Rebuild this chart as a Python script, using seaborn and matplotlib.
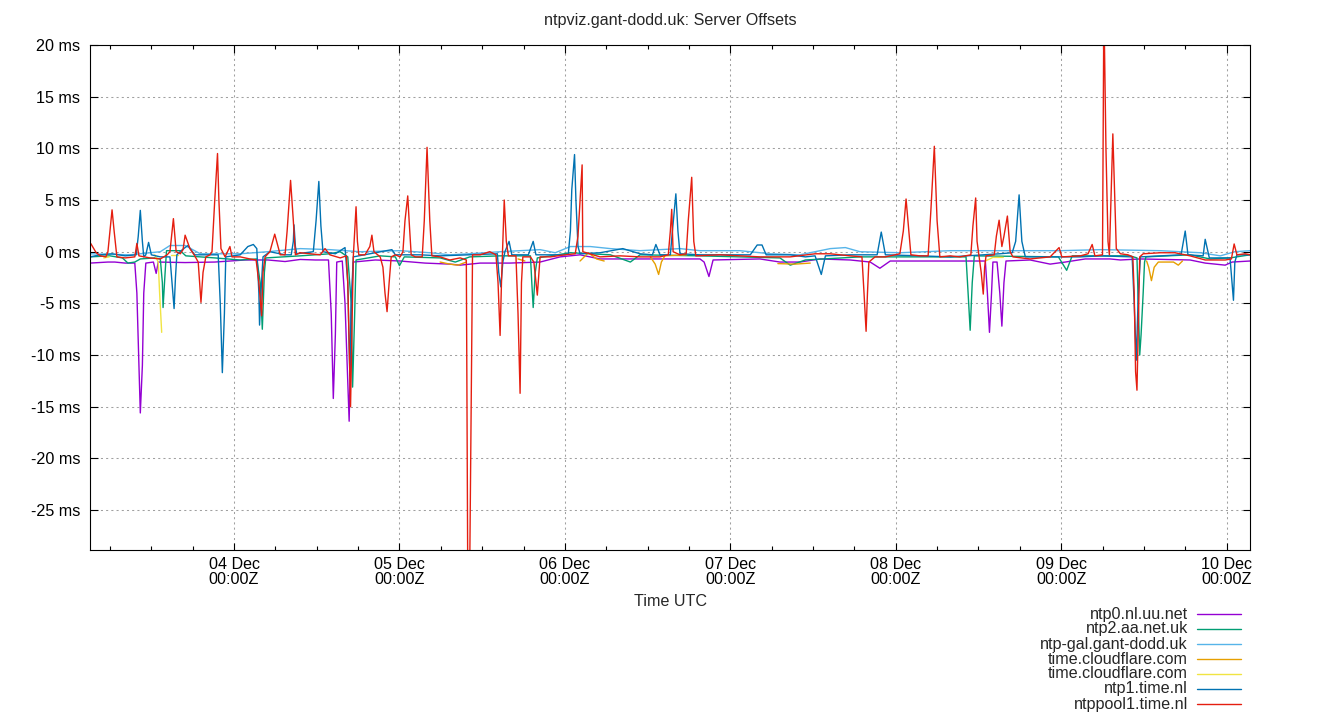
import numpy as np
import pandas as pd
import matplotlib
matplotlib.use("Agg")
import matplotlib.pyplot as plt
import seaborn as sns
from matplotlib.lines import Line2D
from matplotlib.ticker import MultipleLocator, FixedLocator

# ---------------- data (time = hours since 03 Dec 00:00Z, offset in ms) ----------------
SERVERS = ["ntp0.nl.uu.net", "ntp2.aa.net.uk", "ntp-gal.gant-dodd.uk",
           "time.cloudflare.com", "time.cloudflare.com", "ntp1.time.nl", "ntppool1.time.nl"]
COLORS = ["#9400d3", "#009e73", "#56b4e9", "#e69f00", "#f0e442", "#0072b2", "#e51e10"]

ntp0_t = [3.1, 5.7, 6.7, 8.2, 9.6, 9.9, 10.2, 10.4, 10.7, 10.9, 11.2, 12.3, 12.7, 13.0, 16.9,
          21.2, 23.4, 25.6, 28.9, 31.4, 33.6, 35.8, 37.7, 38.1, 38.4, 38.7, 38.9, 39.7, 40.1,
          40.7, 41.0, 41.3, 44.5, 48.1, 51.7, 55.3, 56.8, 59.7, 64.0, 68.4, 71.3, 74.2, 77.1,
          84.4, 91.6, 92.2, 92.9, 93.5, 100.3, 103.2, 106.1, 109.0, 113.4, 116.3, 117.7, 119.2,
          127.9, 133.0, 133.3, 133.6, 133.9, 134.1, 134.7, 135.1, 135.4, 135.7, 136.0, 139.5,
          142.4, 144.6, 147.5, 151.1, 152.6, 155.5, 162.7, 164.9, 167.8, 168.8, 171.4]
ntp0_ms = [-1.1, -1.0, -1.0, -1.1, -1.1, -4.0, -11.0, -15.6, -11.0, -4.0, -1.1, -1.0, -2.1, -1.0, -1.05,
           -1.0, -0.9, -0.8, -0.8, -0.95, -0.75, -0.8, -0.8, -6.0, -14.2, -8.0, -1.0, -0.9, -5.0,
           -16.4, -6.0, -1.0, -0.8, -0.9, -1.1, -1.2, -1.3, -1.1, -1.1, -1.0, -0.5, -0.3, -0.7,
           -0.7, -0.7, -1.0, -2.4, -0.8, -0.7, -1.0, -1.0, -0.7, -0.8, -1.0, -1.6, -0.9,
           -0.9, -0.9, -4.0, -7.8, -4.0, -1.0, -1.0, -4.0, -7.2, -3.0, -0.9, -0.8,
           -1.2, -1.0, -0.7, -0.7, -0.8, -0.7, -0.8, -1.1, -1.3, -1.0, -0.9]

ntp2_t = [3.1, 6.0, 7.8, 8.6, 9.6, 10.4, 12.5, 13.3, 13.6, 13.7, 14.0, 14.2, 16.2, 17.0, 21.2,
          24.9, 27.3, 27.8, 28.1, 28.4, 28.6, 33.6, 37.9, 39.4, 40.5, 41.0, 41.2, 41.5, 41.7,
          45.2, 47.4, 48.0, 48.7, 53.9, 56.1, 58.2, 62.6, 67.0, 67.2, 67.4, 67.7, 68.0, 72.8,
          78.6, 81.5, 82.9, 91.6, 103.2, 104.7, 106.9, 114.8, 130.2, 130.5, 130.8, 131.1, 131.4,
          143.6, 144.8, 145.6, 154.0, 155.0, 155.4, 155.6, 155.9, 156.1, 156.3, 162.7, 165.6,
          168.5, 171.4]
ntp2_ms = [-0.5, -0.4, -0.6, -1.1, -1.0, -0.7, -0.6, -0.7, -3.0, -5.4, -2.0, 0.1, 0.1, -0.4, -0.6,
           -0.8, -0.7, -3.0, -7.5, -2.0, -0.6, -0.4, -0.2, 0.0, -0.5, -5.0, -13.1, -6.0, -0.8,
           -0.4, -0.5, -1.35, -0.5, -0.6, -1.0, -0.5, -0.4, -0.4, -3.0, -5.4, -2.0, -0.6, -0.1,
           -0.3, -1.0, -0.3, -0.4, -0.6, -1.3, -0.8, -0.5, -0.5, -4.0, -7.6, -3.0, -0.4,
           -0.5, -1.8, -0.4, -0.4, -0.6, -10.0, -8.0, -4.0, -1.0, -0.5, -0.3, -0.7,
           -0.6, -0.3]

gal_t = [3.1, 8.9, 13.3, 14.7, 16.9, 19.1, 24.9, 28.9, 33.6, 37.9, 42.3, 48.1, 52.4, 55.3, 58.2,
         62.6, 68.4, 70.6, 72.8, 75.7, 78.6, 82.9, 88.7, 91.6, 97.4, 101.8, 106.1, 110.5, 112.7,
         114.8, 120.6, 127.9, 135.1, 143.9, 149.7, 158.4, 164.2, 167.1, 169.2, 171.4]
gal_ms = [-0.2, -0.3, 0.0, 0.6, 0.6, -0.2, -0.2, 0.0, 0.3, 0.2, 0.0, 0.1, -0.1, -0.3, -0.2,
          0.0, 0.2, -0.1, 0.5, 0.5, 0.3, 0.1, 0.3, 0.1, 0.1, -0.2, -0.3, 0.3, 0.4,
          0.0, -0.1, 0.1, 0.1, 0.1, 0.2, 0.1, -0.1, -0.4, 0.0, 0.1]

# gaps (no samples) marked with NaN
cf1_t = [53.9, 55.3, 56.5, 57.7, np.nan, 65.2, 66.2, np.nan, 74.2, 75.4, 76.6, 77.7, np.nan,
         84.4, 85.1, 85.6, 86.0, 86.5, 89.7, np.nan, 102.9, 105.4, 107.6, np.nan,
         156.4, 156.7, 157.1, 157.5, 158.1, 160.3, 161.0, 161.6]
cf1_ms = [-1.0, -1.2, -1.3, -1.0, np.nan, -0.7, -0.9, np.nan, -0.9, -0.1, -0.7, -0.9, np.nan,
          -0.5, -1.2, -2.2, -1.0, -0.4, -0.3, np.nan, -1.15, -1.2, -1.1, np.nan,
          -0.9, -1.5, -2.8, -1.5, -1.0, -1.0, -1.3, -0.9]

cf2_t = [5.1, 5.9, np.nan, 12.5, 13.0, 13.2, 13.5, np.nan, 14.9, 15.9, np.nan, 133.0, 134.1, 135.6]
cf2_ms = [-0.6, -0.5, np.nan, -0.3, -1.0, -4.0, -7.8, np.nan, -0.3, -0.3, np.nan, -0.9, -0.55, -0.55]

ntp1_t = [3.1, 4.6, 6.3, 8.2, 9.8, 10.1, 10.4, 10.7, 10.9, 11.2, 11.6, 12.0, 13.3, 14.7, 15.0,
          15.3, 15.5, 15.7, 16.5, 17.3, 18.3, 19.8, 21.7, 22.0, 22.3, 22.6, 22.8, 24.9, 26.0,
          26.8, 27.3, 27.6, 27.7, 27.9, 28.2, 29.2, 31.4, 32.3, 32.6, 32.7, 32.9, 33.1, 35.5,
          35.9, 36.3, 36.6, 36.9, 38.7, 40.1, 40.5, 40.8, 41.0, 41.3, 43.7, 46.9, 47.4, 51.0,
          53.9, 58.2, 62.2, 62.4, 62.7, 63.0, 63.3, 63.9, 64.3, 66.7, 67.4, 67.8, 72.0, 72.5,
          72.8, 73.0, 73.4, 73.6, 73.9, 74.2, 77.1, 80.4, 82.9, 84.7, 85.2, 85.8, 87.3, 87.6,
          88.1, 88.4, 88.7, 91.6, 96.0, 98.9, 99.9, 100.6, 101.2, 104.7, 106.9, 108.3, 109.2,
          109.8, 113.4, 117.3, 117.9, 118.5, 123.5, 127.9, 135.1, 136.9, 137.4, 137.9, 138.3,
          138.8, 142.4, 146.8, 149.7, 154.3, 154.6, 154.9, 155.2, 155.5, 158.4, 161.4, 162.0,
          162.4, 164.6, 164.9, 165.5, 168.5, 169.0, 169.2, 169.5, 171.4]
ntp1_ms = [-0.5, -0.3, -0.2, -0.4, -0.3, 1.5, 4.0, 1.0, -0.5, -0.3, 0.9, -0.3, -0.5, -0.5, -3.0,
           -5.5, -2.5, -0.3, 0.2, 0.6, -0.3, -0.3, -0.3, -5.0, -11.7, -6.0, -0.5, -0.3, 0.5,
           0.7, 0.3, -4.0, -7.1, -4.0, -0.5, 0.0, -0.3, -0.3, 1.0, 2.6, 0.5, -0.2, 0.0,
           3.0, 6.8, 2.5, 0.0, -0.2, 0.4, -3.0, -12.0, -5.0, -0.5, -0.2, 0.2, -0.3, -0.3,
           -0.4, -0.3, -0.2, -2.0, -3.4, -1.0, 0.0, 1.0, -0.3, -0.3, 1.0, -0.3, -0.3, -0.2,
           2.0, 6.0, 9.4, 5.0, 0.5, -0.2, -0.1, 0.3, -0.2, -0.3, 0.7, -0.3, -0.3, 2.0,
           5.6, 2.0, -0.2, -0.3, -0.3, -0.3, 0.65, 0.65, -0.3, -0.3, -0.5, -0.4, -2.2,
           -0.4, -0.3, -0.3, 1.9, -0.3, -0.4, -0.5, -0.2, -0.1, 1.0, 5.5, 1.0,
           -0.5, -0.5, -0.5, -0.4, -0.5, -5.0, -10.5, -4.0, -0.5, -0.4, -0.3, 2.0,
           -0.3, -0.4, 1.2, -0.6, -0.6, -4.7, -1.0, -0.3, -0.3]

pool_t = [3.2, 4.0, 4.6, 5.4, 5.7, 6.0, 6.3, 6.6, 7.0, 8.2, 9.6, 9.9, 10.2, 11.8, 13.3, 14.3,
          14.7, 15.2, 15.6, 16.2, 16.6, 16.9, 17.6, 18.3, 18.8, 19.2, 19.5, 19.9, 20.5, 20.8,
          21.2, 21.6, 21.8, 22.1, 22.7, 23.4, 23.7, 24.9, 26.3, 27.2, 27.6, 28.0, 28.2, 28.5,
          29.2, 29.9, 30.7, 31.4, 31.7, 32.2, 32.6, 32.9, 33.6, 35.0, 36.5, 37.2, 37.9, 39.4,
          40.3, 40.5, 40.9, 41.1, 41.3, 41.5, 41.7, 41.9, 42.1, 43.0, 43.7, 44.0, 44.3, 45.2,
          45.6, 45.9, 46.2, 46.5, 46.8, 47.4, 48.1, 48.5, 48.8, 49.2, 49.4, 49.7, 50.3, 51.3,
          51.6, 52.0, 52.4, 52.7, 53.9, 55.3, 56.8, 57.7, 58.0, 58.6, 59.7, 61.1, 62.0, 62.3,
          62.6, 62.8, 63.0, 63.2, 63.5, 63.8, 64.9, 65.2, 65.5, 65.7, 65.9, 67.0, 67.5, 68.0,
          68.4, 69.9, 72.0, 73.5, 73.9, 74.2, 74.5, 74.6, 77.1, 80.0, 82.9, 85.8, 87.0, 87.3,
          87.5, 87.7, 88.7, 89.6, 89.9, 90.4, 90.7, 91.0, 94.5, 97.4, 100.3, 104.7, 108.3,
          110.5, 113.4, 115.1, 115.4, 115.7, 115.9, 116.1, 117.0, 118.5, 120.6, 121.1, 121.5,
          121.9, 122.2, 123.5, 124.7, 125.1, 125.6, 126.0, 126.4, 127.9, 129.3, 130.9, 131.2,
          131.6, 131.8, 132.1, 132.4, 132.7, 132.9, 133.1, 134.3, 134.6, 135.0, 135.4, 135.7,
          136.2, 136.6, 137.0, 139.5, 142.4, 143.7, 144.1, 146.8, 147.9, 148.5, 148.9, 150.0,
          150.2, 150.5, 150.8, 151.0, 151.5, 152.0, 152.6, 153.7, 154.4, 154.6, 154.8, 155.0,
          155.4, 155.9, 158.4, 160.5, 162.7, 164.9, 167.8, 168.7, 169.1, 169.5, 170.7, 171.4]
pool_ms = [0.8, -0.1, -0.4, -0.5, 0.0, 2.0, 4.05, 2.0, -0.5, -0.6, -0.5, 0.8, -0.4, -0.6, -0.7, -0.3,
           0.0, 3.2, 0.0, -0.2, 0.2, 1.6, 0.3, -0.4, -1.0, -4.9, -2.0, -0.5, -0.3, 0.0,
           5.0, 9.5, 5.0, 0.3, -0.5, 0.5, -0.5, -0.5, -0.7, -0.8, -3.0, -6.2, -2.0, -0.5,
           0.0, 1.7, -0.3, -0.3, 2.0, 6.9, 3.0, -0.3, -0.1, -0.2, -0.3, 0.3, -0.3, -0.6,
           -0.4, -3.0, -15.0, -8.0, -0.5, 2.0, 4.35, 1.0, -0.3, -0.3, 0.5, 1.6, 0.0, -0.5,
           -1.5, -4.0, -5.8, -3.0, -0.5, -0.3, -0.5, 0.0, 3.0, 5.4, 3.0, -0.3, -0.5, -0.5,
           3.0, 10.1, 3.0, -0.4, -0.5, -0.8, -0.6, -0.8, -45.0, -0.3, -0.3, 0.0, -0.3, -3.0,
           -8.1, -3.0, 1.0, 5.0, 1.0, -0.4, -0.4, -6.0, -13.7, -3.0, -0.5, -0.5, -1.0, -4.2,
           -0.5, -0.5, -0.3, -0.2, 1.5, 5.0, 8.4, 0.0, -0.5, -0.4, -0.5, -0.5, -0.3, 2.0,
           4.1, 0.0, -0.3, -0.2, 3.0, 7.2, 1.0, -0.4, -0.3, -0.4, -0.5, -0.5, -0.2,
           -0.2, -0.4, -0.5, -4.0, -7.7, -4.0, -1.0, -0.5, -0.5, -0.2, 2.0, 5.1,
           2.0, -0.3, -0.4, -0.4, 4.0, 10.2, 3.0, -0.5, -0.4, -0.5, -0.3, 2.5,
           5.2, 1.0, -0.5, -2.0, -4.1, -1.5, -0.4, -0.3, 1.5, 3.05, 0.5, 1.5,
           3.45, 0.0, -0.5, -0.7, -0.5, 0.4, -0.5, -0.4, -0.2, 0.7, -0.4, -0.3,
           24.0, 10.0, 1.0, -0.3, 11.4, 0.3, -0.2, -0.3, -0.5, -4.0, -11.6, -13.4,
           -0.5, -0.2, -0.1, -0.1, -0.4, -0.8, -0.8, -0.7, 0.75, -0.3, -0.2, -0.3]

series_t = [ntp0_t, ntp2_t, gal_t, cf1_t, cf2_t, ntp1_t, pool_t]
series_ms = [ntp0_ms, ntp2_ms, gal_ms, cf1_ms, cf2_ms, ntp1_ms, pool_ms]

XTICK_DAYS = ["04 Dec", "05 Dec", "06 Dec", "07 Dec", "08 Dec", "09 Dec", "10 Dec"]
XTICK_HOURS = [24, 48, 72, 96, 120, 144, 168]
YTICKS = [-25, -20, -15, -10, -5, 0, 5, 10, 15, 20]

# ---------------- build long table ----------------
rows = []
unit = 0
for i, (ts, vs) in enumerate(zip(series_t, series_ms)):
    key = f"{i}:{SERVERS[i]}"
    unit += 1
    for t, v in zip(ts, vs):
        if np.isnan(v):
            unit += 1
            continue
        rows.append((key, unit, t, v))
df = pd.DataFrame(rows, columns=["key", "unit", "t", "ms"])
keys = [f"{i}:{s}" for i, s in enumerate(SERVERS)]

# ---------------- style ----------------
FS = 11.6
sns.set_style("ticks")
plt.rcParams["font.family"] = ["Liberation Sans", "DejaVu Sans"]
plt.rcParams["font.size"] = FS

W, H = 1340, 720
fig = plt.figure(figsize=(W / 100, H / 100), dpi=100)
L, R, T, B = 90, 1250, 45, 550
ax = fig.add_axes([L / W, 1 - B / H, (R - L) / W, (B - T) / H])

sns.lineplot(data=df, x="t", y="ms", hue="key", hue_order=keys, palette=COLORS,
             units="unit", estimator=None, sort=False, legend=False, lw=1.0, ax=ax)

ax.set_xlim(3.1, 171.4)
ax.set_ylim(-28.86, 20)
ax.xaxis.set_major_locator(FixedLocator(XTICK_HOURS))
ax.set_xticklabels([f"{d}\n00:00Z" for d in XTICK_DAYS])
ax.xaxis.set_minor_locator(MultipleLocator(6))
ax.set_yticks(YTICKS)
ax.set_yticklabels([f"{v} ms" for v in YTICKS])
for lbl in ax.get_xticklabels():
    lbl.set_linespacing(0.98)

ax.tick_params(which="both", direction="in", top=True, right=True, colors="black",
               labelsize=FS, width=0.8)
ax.tick_params(which="major", length=5.4)
ax.tick_params(which="minor", length=3.2)
ax.tick_params(axis="x", which="major", pad=5)
ax.tick_params(axis="y", which="major", pad=7)
ax.set_xlabel("")
ax.set_ylabel("")
for sp in ax.spines.values():
    sp.set_visible(True)
    sp.set_color("black")
    sp.set_linewidth(0.8)
ax.grid(True, which="major", color="#a0a0a0", linestyle=(0, (2, 3)), linewidth=0.75)
ax.set_axisbelow(True)

fig.text(0.5, 1 - 21 / H, "ntpviz.gant-dodd.uk: Server Offsets", ha="center", va="center", fontsize=FS)
fig.text((L + R) / 2 / W, 1 - 601 / H, "Time UTC", ha="center", va="center", fontsize=FS)

# legend (gnuplot style: text right-aligned, sample to the right)
for i, (name, col) in enumerate(zip(SERVERS, COLORS)):
    yy = 1 - (614 + 15 * i) / H
    fig.text(1188 / W, yy, name, ha="right", va="center", fontsize=FS)
    fig.add_artist(Line2D([1197 / W, 1241 / W], [yy, yy], color=col, lw=1.0,
                          transform=fig.transFigure))

fig.savefig("out.png", dpi=100)
